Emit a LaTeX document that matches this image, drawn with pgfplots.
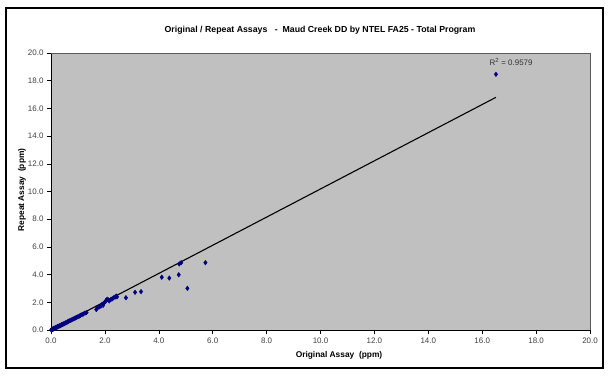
\documentclass[border=0pt]{standalone}
\usepackage{pgfplots}
\pgfplotsset{compat=1.18}
\usepackage{fontspec}
\setmainfont{Liberation Sans}
\definecolor{plotgray}{HTML}{C0C0C0}
\definecolor{navy}{HTML}{000080}
\begin{document}
\begin{tikzpicture}[x=1bp,y=1bp]
\useasboundingbox (0,0) rectangle (609,379);
\fill[white] (0,0) rectangle (609,379);
\draw[black, line width=1.2bp] (6,11) rectangle (603,371);
\node[font=\bfseries\fontsize{8.8}{10}\selectfont] at (320,349) {Original / Repeat Assays \ \ - \ Maud Creek DD by NTEL FA25 - Total Program};
\node[font=\bfseries\fontsize{8.4}{10}\selectfont] at (339,24) {Original Assay \ (ppm)};
\node[font=\bfseries\fontsize{8.4}{10}\selectfont, rotate=90] at (22,189) {Repeat Assay \ (ppm)};
\begin{axis}[
  at={(51bp,49bp)}, anchor=south west,
  scale only axis, width=539bp, height=277bp,
  xmin=0, xmax=20, ymin=0, ymax=20,
  axis background/.style={fill=plotgray},
  axis lines*=left,
  axis line style={black, line width=0.8bp},
  xtick={0,2,...,20}, ytick={0,2,...,20},
  tick align=outside, major tick length=4bp,
  tick style={black, line width=0.6bp},
  tick label style={font=\fontsize{8}{9}\selectfont, text=black!75},
  /pgf/number format/.cd, fixed, fixed zerofill, precision=1, assume math mode=true,
  /pgfplots/.cd,
  clip=false,
]
\draw[gray!70!black, line width=0.6bp] (rel axis cs:0,1) -- (rel axis cs:1,1) -- (rel axis cs:1,0);
\addplot[black, line width=1.1bp] coordinates {(0.01,0.03) (16.51,16.80)};
\addplot[only marks, mark=diamond*, mark size=2.3bp, mark options={fill=navy, draw=navy}] coordinates {
(0.01,0.01) (0.02,0.02) (0.03,0.03) (0.04,0.05) (0.05,0.04) (0.06,0.06) (0.08,0.07) (0.10,0.09)
(0.11,0.12) (0.13,0.12) (0.15,0.14) (0.17,0.16) (0.19,0.18) (0.21,0.20) (0.23,0.22) (0.25,0.24)
(0.28,0.26) (0.30,0.29) (0.33,0.31) (0.35,0.33) (0.38,0.36) (0.40,0.39) (0.43,0.41) (0.46,0.44)
(0.50,0.47) (0.53,0.51) (0.56,0.53) (0.60,0.57) (0.63,0.61) (0.66,0.64) (0.70,0.67) (0.74,0.71)
(0.78,0.75) (0.82,0.79) (0.86,0.83) (0.90,0.87) (0.95,0.91) (1.00,0.96) (1.05,1.01) (1.10,1.06)
(1.15,1.11) (1.20,1.16) (1.26,1.22) (1.32,1.27) (1.68,1.48) (1.72,1.60) (1.78,1.65) (1.85,1.72)
(1.90,1.86) (1.93,1.78) (1.97,1.95) (2.02,2.05) (2.05,2.15) (2.08,2.22) (2.12,2.18) (2.16,2.10)
(2.22,2.20) (2.27,2.25) (2.32,2.32) (2.38,2.38) (2.42,2.45) (2.45,2.40) (2.78,2.33) (3.12,2.72)
(3.34,2.77) (4.11,3.81) (4.39,3.75) (4.74,3.99) (4.76,4.77) (4.83,4.86) (5.06,3.01) (5.73,4.86)
(16.51,18.46)
};
\node[font=\fontsize{8}{9}\selectfont, text=black!80] at (axis cs:17.07,19.35) {R\textsuperscript{2} = 0.9579};
\end{axis}
\end{tikzpicture}
\end{document}
